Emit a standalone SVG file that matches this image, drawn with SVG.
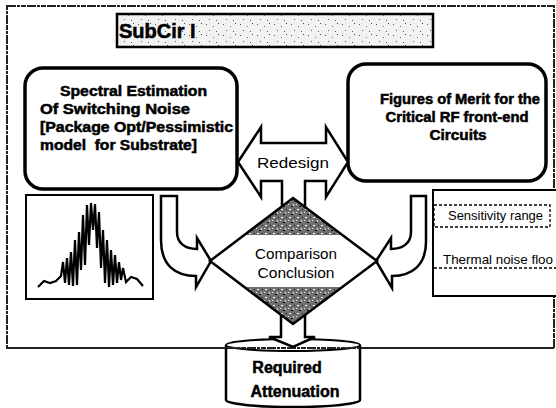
<svg xmlns="http://www.w3.org/2000/svg" width="556" height="408" viewBox="0 0 556 408">
<style>
.b{font-family:"Liberation Sans",Arial,sans-serif;font-weight:bold;fill:#000;stroke:#000;stroke-width:0.5}
.r{font-family:"Liberation Sans",Arial,sans-serif;fill:#000}
.box{fill:#fff;stroke:#000;stroke-width:3.5}
.ln{fill:none;stroke:#000;stroke-width:2.2}
.blk{fill:#fff;stroke:#000;stroke-width:2.5;stroke-linejoin:miter}
.dash{fill:none;stroke:#000;stroke-width:1.3;stroke-dasharray:3 2}
.fr{fill:none;stroke:#222;stroke-width:2;stroke-dasharray:9 1 3 1 5 1}
</style>
<defs>
<pattern id="stip" width="17" height="11" patternUnits="userSpaceOnUse">
<rect width="17" height="11" fill="#f2f2f2"/>
<rect x="2" y="2" width="1" height="1" fill="#555"/>
<rect x="9" y="4" width="1" height="1" fill="#777"/>
<rect x="14" y="1" width="1" height="1" fill="#444"/>
<rect x="5" y="8" width="1" height="1" fill="#666"/>
<rect x="12" y="9" width="1" height="1" fill="#555"/>
</pattern>
<pattern id="hatch" width="8" height="8" patternUnits="userSpaceOnUse">
<rect width="8" height="8" fill="#6f6f6f"/>
<rect x="1" y="1" width="2" height="1" fill="#fff"/>
<rect x="5" y="4" width="1" height="2" fill="#ddd"/>
<rect x="3" y="6" width="2" height="1" fill="#111"/>
<rect x="6" y="1" width="1" height="1" fill="#111"/>
<rect x="0" y="4" width="1" height="1" fill="#eee"/>
</pattern>
</defs>

<g id="frame">
<rect class="fr" x="7" y="6" width="547" height="342"/>
</g>

<g id="subcir">
<rect x="117" y="14" width="316" height="33" fill="url(#stip)" stroke="#000" stroke-width="2.5"/>
<text class="b" x="119" y="38" font-size="20">SubCir I</text>
</g>

<g id="spectral">
<rect class="box" x="25" y="68" width="212" height="121" rx="18"/>
<text class="b" font-size="14" x="60" y="96" textLength="147" lengthAdjust="spacingAndGlyphs">Spectral Estimation</text>
<text class="b" font-size="14" x="40" y="114" textLength="150" lengthAdjust="spacingAndGlyphs">Of Switching Noise</text>
<text class="b" font-size="14" x="40" y="132" textLength="193" lengthAdjust="spacingAndGlyphs">[Package Opt/Pessimistic</text>
<text class="b" font-size="14" x="40" y="150" textLength="157" lengthAdjust="spacingAndGlyphs" style="white-space:pre">model  for Substrate]</text>
</g>

<g id="figures">
<rect class="box" x="348" y="64" width="198" height="117" rx="18"/>
<text class="b" font-size="14" x="460" y="104" text-anchor="middle" textLength="160" lengthAdjust="spacingAndGlyphs">Figures of Merit for the</text>
<text class="b" font-size="14" x="457" y="122" text-anchor="middle" textLength="143" lengthAdjust="spacingAndGlyphs">Critical RF front-end</text>
<text class="b" font-size="14" x="458" y="140" text-anchor="middle" textLength="57" lengthAdjust="spacingAndGlyphs">Circuits</text>
</g>

<g id="spectrum">
<rect x="26" y="195" width="127" height="104" fill="#fff" stroke="#000" stroke-width="2"/>
<polyline class="ln" points="38,287 44,281 50,283 56,281 61,276 63,262 65,283 67,258 69,285 71,252 73,286 75,240 77,285 79,232 81,270 83,215 85,265 87,205 89,245 91,203 93,230 95,204 97,248 99,212 101,268 103,230 105,283 107,240 109,287 111,250 113,285 115,255 117,283 119,262 121,280 123,268 126,282 131,277 137,279 143,286"/>
</g>

<g id="specs">
<rect x="433" y="190" width="130" height="106" fill="#fff" stroke="#000" stroke-width="2"/>
<rect class="dash" x="434" y="205" width="116" height="22"/>
<line class="dash" x1="434" y1="268" x2="556" y2="268"/>
<text class="r" font-size="13" x="448" y="220" textLength="95" lengthAdjust="spacingAndGlyphs">Sensitivity range</text>
<text class="r" font-size="13" x="443" y="264" textLength="110" lengthAdjust="spacingAndGlyphs">Thermal noise floo</text>
</g>

<g id="attenuation">
<path d="M226,345 L226,400 A67,7 0 0 0 360,400 L360,345" fill="#fff" stroke="#000" stroke-width="2.5"/>
<ellipse cx="293" cy="345" rx="67" ry="6" fill="#fff" stroke="#000" stroke-width="2"/>
<line class="fr" x1="7" y1="348" x2="554" y2="348"/>
<text class="b" font-size="16" x="287" y="373" text-anchor="middle">Required</text>
<text class="b" font-size="16" x="295" y="397" text-anchor="middle">Attenuation</text>
</g>

<g id="connectors">
<path class="blk" d="M238,162 L261,127 L261,143 L326,143 L326,127 L348,162 L326,197 L326,181 L305,181 L305,207 L282,207 L282,181 L261,181 L261,197 Z"/>
<text class="r" font-size="15" x="293" y="168" text-anchor="middle" textLength="72" lengthAdjust="spacingAndGlyphs">Redesign</text>
<path class="blk" d="M161,196 L177,196 L177,232 C177,243 185,249 197,249 L197,238 L211,261 L196,287 L196,276 C175,276 161,265 161,240 Z"/>
<path class="blk" d="M426,196 L411,196 L411,232 C411,243 403,249 391,249 L391,238 L376,261 L392,288 L392,276 C412,276 426,265 426,242 Z"/>
<path class="blk" d="M281,314 L281,337 L269,337 L293,347 L315,337 L305,337 L305,314 Z"/>
</g>

<g id="comparison">
<polygon points="293,198 377,261 293,324 210,261" fill="#fff" stroke="none"/>
<polygon points="293,198 342,235 244,235" fill="url(#hatch)"/>
<polygon points="243,287 343,287 293,324" fill="url(#hatch)"/>
<polygon points="293,198 377,261 293,324 210,261" fill="none" stroke="#000" stroke-width="2.5"/>
<text class="r" font-size="15" x="296" y="259" text-anchor="middle" textLength="82" lengthAdjust="spacingAndGlyphs">Comparison</text>
<text class="r" font-size="15" x="296" y="278" text-anchor="middle" textLength="77" lengthAdjust="spacingAndGlyphs">Conclusion</text>
</g>
</svg>
